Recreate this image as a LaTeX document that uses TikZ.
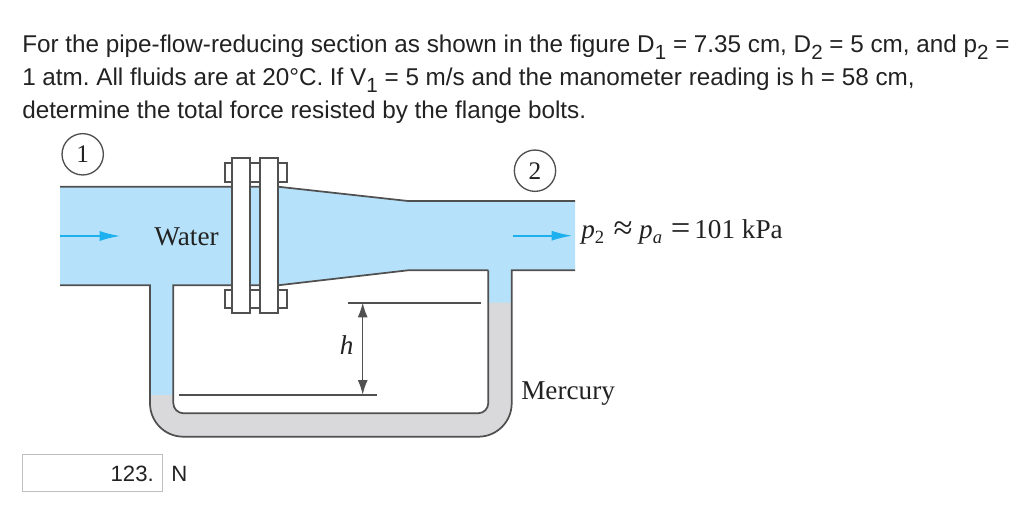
\documentclass[tikz,border=0pt]{standalone}
\usepackage{fontspec}
\setmainfont{Liberation Sans}
\newfontfamily\figfont{Liberation Serif}
\usetikzlibrary{arrows.meta}
\frenchspacing
\definecolor{waterc}{HTML}{B5E2FA}
\definecolor{mercc}{HTML}{D9D9DB}
\definecolor{linec}{HTML}{505050}
\definecolor{flowc}{HTML}{1CB0EE}
\definecolor{textc}{HTML}{222222}
\newcommand{\lowsub}[1]{\raisebox{-0.25em}{\fontsize{15.4}{16}\selectfont #1}}
\newcommand{\figsub}[1]{\raisebox{-0.22em}{\fontsize{14}{15}\selectfont #1}}
\newcommand{\bigrel}[1]{\raisebox{-1.4pt}{\fontsize{26}{28}\selectfont #1}}
\tikzset{
  qtext/.style={anchor=base west,inner sep=0pt,text=textc,font=\fontsize{18.2}{21}\selectfont},
  anstext/.style={inner sep=0pt,text=textc,font=\fontsize{16.6}{20}\selectfont},
  figtext/.style={inner sep=0pt,text=textc,font=\figfont\fontsize{20.4}{23}\selectfont},
  wall/.style={draw=linec,line width=1.3pt},
  thinwall/.style={draw=linec,line width=1.2pt},
  partbox/.style={draw=linec,line width=1.3pt,fill=white},
  station/.style={circle,draw=linec,line width=1pt,fill=white,minimum size=31pt,inner sep=0pt,text=textc,font=\figfont\fontsize{19}{20}\selectfont},
  flow/.style={draw=flowc,line width=1.7pt,-{Latex[length=16pt,width=7.5pt]}},
  dim/.style={draw=linec,line width=1pt,{Latex[length=11pt,width=7.5pt]}-{Latex[length=11pt,width=7.5pt]}}
}
\begin{document}
\begin{tikzpicture}[x=0.75pt,y=-0.75pt]
\useasboundingbox (0,0) rectangle (1024,524);
% question text
\node[qtext] (q1) at (22,53) {For the pipe-flow-reducing section as shown in the figure D\lowsub{1} = 7.35 cm, D\lowsub{2} = 5 cm, and p\lowsub{2} =};
\node[qtext] (q2) at (22,86) {1 atm. All fluids are at 20°C. If V\lowsub{1} = 5 m/s and the manometer reading is h = 58 cm,};
\node[qtext] (q3) at (22,118.5) {determine the total force resisted by the flange bolts.};
% fluids
\fill[waterc] (60,186.7) -- (278,186.7) -- (408,201) -- (575,201) -- (575,270.3) -- (511.7,270.3) -- (511.7,303) -- (487.9,303) -- (487.9,270.3) -- (408,270.3) -- (278,285.3) -- (173.3,285.3) -- (173.3,395) -- (150,395) -- (150,285.3) -- (60,285.3) -- cycle;
\fill[mercc] (150,395) -- (150,395) [rounded corners=25pt] -- (150,436.7) -- (511.7,436.7) [sharp corners] -- (511.7,302.7) -- (488.3,302.7) [rounded corners=7.7pt] -- (488.3,413.3) -- (173.3,413.3) [sharp corners] -- (173.3,395) -- cycle;
% pipe walls
\draw[wall] (60,186.7) -- (278,186.7) -- (408,201) -- (575,201);
\draw[wall,rounded corners=25pt] (60,285.3) [sharp corners] -- (150,285.3) [rounded corners=25pt] -- (150,436.7) -- (511.7,436.7) [sharp corners] -- (511.7,270.3) -- (575,270.3);
\draw[wall] (278,285.3) -- (408,270.3) -- (488.3,270.3);
\draw[wall] (278,285.3) -- (173.3,285.3) [rounded corners=7.7pt] -- (173.3,413.3) -- (488.3,413.3) [sharp corners] -- (488.3,270.3);
% flange bolts and flanges
\draw[partbox] (225,163.3) rectangle (286.7,181.7);
\draw[partbox] (225,290) rectangle (286.7,308.3);
\draw[partbox] (232.3,158.3) rectangle (250.3,313.3);
\draw[partbox] (259.7,158.3) rectangle (278,313.3);
% stations
\node[station] (s1) at (82.7,154.3) {1};
\node[station] (s2) at (535,170.7) {2};
% labels
\node[figtext,anchor=base] (water) at (186.5,245) {Water};
\node[figtext,anchor=base west] (press) at (581,238) {\textit{p}\figsub{2}\hspace{7pt}\bigrel{≈}\hspace{5pt}\textit{p}\figsub{\textit{a}}\hspace{6.5pt}\bigrel{=}\hspace{3pt}101 kPa};
\node[figtext,anchor=base] (hl) at (346.7,354) {\textit{h}};
\node[figtext,anchor=base west] (merc) at (521,399) {Mercury};
% flow arrows
\coordinate (f1a) at (60,236);
\coordinate (f1b) at (121,236);
\coordinate (f2a) at (512.7,235.7);
\coordinate (f2b) at (573,235.7);
\draw[flow] (f1a) -- (f1b);
\draw[flow] (f2a) -- (f2b);
% h dimension
\coordinate (hua) at (348,302.7);
\coordinate (hub) at (481,302.7);
\coordinate (hla) at (179,394.7);
\coordinate (hlb) at (377,394.7);
\coordinate (hda) at (362.7,302.7);
\coordinate (hdb) at (362.7,394.7);
\draw[thinwall] (hua) -- (hub);
\draw[thinwall] (hla) -- (hlb);
\draw[dim] (hda) -- (hdb);
% answer box
\node[draw=black!25,line width=0.9pt,fill=white,minimum width=105.5pt,minimum height=28pt,inner sep=0pt] (box) at (92.5,473) {};
\node[anstext,anchor=base east] (ans) at (154,481) {123.};
\node[anstext,anchor=base west] (unit) at (171,481) {N};
\end{tikzpicture}
\end{document}
